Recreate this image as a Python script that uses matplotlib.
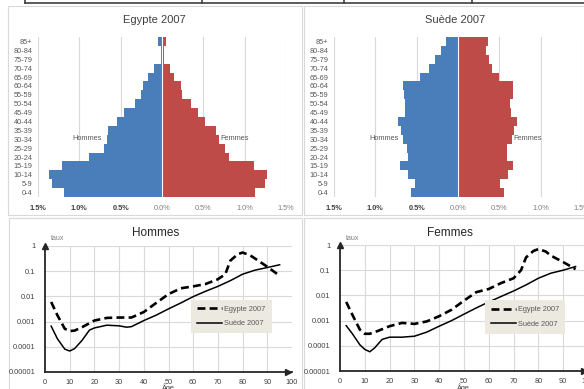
import matplotlib
matplotlib.use("Agg")
import matplotlib.pyplot as plt
import numpy as np
from matplotlib.lines import Line2D
from matplotlib.patches import Rectangle

plt.rcParams['font.family'] = ['Liberation Sans', 'DejaVu Sans']

# Data
age_groups = ['0-4', '5-9', '10-14', '15-19', '20-24', '25-29', '30-34', '35-39', '40-44',
              '45-49', '50-54', '55-59', '60-64', '65-69', '70-74', '75-79', '80-84', '85+']

# population share in % (from 0-4 up to 85+)
egy_men = [1.18, 1.33, 1.37, 1.21, 0.88, 0.70, 0.67, 0.65, 0.54, 0.46, 0.33, 0.26, 0.23, 0.17, 0.10, 0.01, 0.01, 0.05]
egy_women = [1.13, 1.24, 1.27, 1.11, 0.81, 0.76, 0.69, 0.65, 0.52, 0.43, 0.35, 0.24, 0.23, 0.15, 0.10, 0.02, 0.02, 0.05]
swe_men = [0.57, 0.52, 0.61, 0.70, 0.61, 0.62, 0.66, 0.69, 0.73, 0.64, 0.64, 0.65, 0.67, 0.46, 0.35, 0.28, 0.21, 0.15]
swe_women = [0.56, 0.51, 0.60, 0.67, 0.59, 0.59, 0.65, 0.68, 0.71, 0.64, 0.63, 0.66, 0.67, 0.49, 0.41, 0.38, 0.34, 0.36]

pct_ticks = [-1.5, -1.0, -0.5, 0.0, 0.5, 1.0, 1.5]
pct_labels = ['1.5%', '1.0%', '0.5%', '0.0%', '0.5%', '1.0%', '1.5%']

# mortality rates by age
age_egy_h = [2.5, 5, 8, 10, 12, 15, 20, 25, 30, 35, 40, 45, 50, 55, 60, 65, 70, 73, 75, 78, 80, 83, 85, 90, 95]
egy_h = [0.0060, 0.0018, 0.00052, 0.00042, 0.00044, 0.0006, 0.0011, 0.0014, 0.00145, 0.00145, 0.0024,
         0.0055, 0.0123, 0.021, 0.025, 0.031, 0.048, 0.076, 0.26, 0.47, 0.55, 0.43, 0.32, 0.15, 0.066]
age_swe_h = [2.5, 5, 8, 10, 12, 15, 18, 20, 25, 30, 33, 35, 40, 45, 50, 55, 60, 65, 70, 75, 80, 85, 90, 95]
swe_h = [0.00066, 0.00021, 0.000081, 0.000068, 0.000085, 0.00018, 0.00046, 0.00056, 0.00072, 0.00068,
         0.0006, 0.00063, 0.0011, 0.0018, 0.0032, 0.0055, 0.0098, 0.016, 0.025, 0.042, 0.076, 0.11, 0.14, 0.18]

age_egy_f = [2.5, 5, 8, 10, 12, 15, 20, 25, 30, 35, 40, 45, 50, 55, 60, 65, 70, 73, 75, 78, 80, 83, 85, 90, 95]
egy_f = [0.0055, 0.0017, 0.00044, 0.0003, 0.0003, 0.00038, 0.0006, 0.00081, 0.00074, 0.00093, 0.0015,
         0.0027, 0.0062, 0.0135, 0.018, 0.031, 0.048, 0.10, 0.32, 0.58, 0.69, 0.55, 0.38, 0.21, 0.11]
age_swe_f = [2.5, 5, 8, 10, 12, 14, 17, 20, 25, 30, 35, 40, 45, 50, 55, 60, 65, 70, 75, 80, 85, 90, 95]
swe_f = [0.00063, 0.0003, 0.00011, 0.000072, 0.000058, 0.000083, 0.00018, 0.00022, 0.00022, 0.00024,
         0.00035, 0.0006, 0.001, 0.0018, 0.0032, 0.0055, 0.0091, 0.015, 0.026, 0.048, 0.076, 0.10, 0.14]

rate_ticks = [1e-5, 1e-4, 1e-3, 1e-2, 1e-1, 1]
rate_labels = ['0.00001', '0.0001', '0.001', '0.01', '0.1', '1']

W, H = 584, 389
BLUE = '#4a7ebb'
RED = '#be4b48'
GRID = '#d9d9d9'


def box(l, t, r, b):
    return [l / W, 1 - b / H, (r - l) / W, (b - t) / H]


def fx(x):
    return x / W


def fy(y):
    return 1 - y / H


fig = plt.figure(figsize=(W / 100, H / 100), dpi=100)

# table lines at the top
fig.add_artist(Line2D([fx(25), 1], [fy(3), fy(3)], color='#404040', lw=1.2))
for x in [25, 202, 344, 472]:
    fig.add_artist(Line2D([fx(x), fx(x)], [fy(3), 1], color='#404040', lw=1.2))

# panel frames
for l, t, r, b in [(8, 6, 302, 215), (304, 6, 600, 215), (9, 218, 302, 400), (304, 218, 600, 400)]:
    fig.add_artist(Rectangle((fx(l), fy(b)), (r - l) / W, (b - t) / H, transform=fig.transFigure,
                             facecolor='white', edgecolor=GRID, lw=0.8, zorder=-1))


def pyramid(rect, men, women, title, title_x, hom_x, fem_x):
    ax = fig.add_axes(rect)
    ax.set_facecolor('none')
    idx = np.arange(len(age_groups))
    ax.barh(idx, -np.array(men), height=1.0, color=BLUE, zorder=2)
    ax.barh(idx, women, height=1.0, color=RED, zorder=2)
    ax.axvline(0, color='white', lw=0.8, zorder=3)
    for x in pct_ticks:
        ax.axvline(x, color=GRID, lw=0.8, zorder=1)
    ax.set_xlim(-1.5, 1.5)
    ax.set_ylim(-0.5, len(age_groups) - 0.5)
    ax.set_yticks(idx)
    ax.set_yticklabels(age_groups, fontsize=5.3, color='#595959')
    ax.set_xticks(pct_ticks)
    ax.set_xticklabels(pct_labels, fontsize=5.3)
    for i, lab in enumerate(ax.get_xticklabels()):
        if i < 3:
            lab.set_fontweight('bold')
            lab.set_color('#404040')
        else:
            lab.set_color('#7f7f7f')
    ax.tick_params(length=0, pad=4)
    ax.tick_params(axis='x', pad=6)
    for s in ax.spines.values():
        s.set_visible(False)
    fig.text(fx(title_x), fy(20), title, ha='center', va='center', fontsize=8, color='#404040')
    fig.text(fx(hom_x), fy(139), 'Hommes', ha='center', va='center', fontsize=5.3, color='#595959')
    fig.text(fx(fem_x), fy(139), 'Femmes', ha='center', va='center', fontsize=5.3, color='#595959')


pyramid(box(38, 37, 286, 197), egy_men, egy_women, 'Egypte 2007', 154, 87, 235)
pyramid(box(334, 37, 582, 197), swe_men, swe_women, 'Suède 2007', 455, 384, 528)


def mortality(rect, ages_e, egy, ages_s, swe, title, title_x, leg_box):
    ax = fig.add_axes(rect)
    ax.set_facecolor('none')
    ax.set_yscale('log')
    ax.set_xlim(0, 100)
    ax.set_ylim(1e-5, 1)
    for x in range(10, 100, 10):
        ax.axvline(x, color=GRID, lw=0.8, zorder=0)
    for y in rate_ticks[1:]:
        ax.axhline(y, color=GRID, lw=0.8, zorder=0)
    le, = ax.plot(ages_e, egy, color='black', lw=1.9, linestyle=(0, (3, 1.6)), label='Egypte 2007')
    ls, = ax.plot(ages_s, swe, color='black', lw=1.1, label='Suède 2007')
    ax.set_yticks(rate_ticks)
    ax.set_yticklabels(rate_labels, fontsize=5.3, color='#404040')
    ax.yaxis.set_minor_locator(matplotlib.ticker.NullLocator())
    ax.set_xticks(range(0, 101, 10))
    ax.set_xticklabels([str(v) for v in range(0, 101, 10)], fontsize=5.3, color='#404040')
    ax.tick_params(length=0)
    ax.tick_params(axis='y', pad=7)
    ax.tick_params(axis='x', pad=5)
    ax.spines['top'].set_visible(False)
    ax.spines['right'].set_visible(False)
    for s in ['left', 'bottom']:
        ax.spines[s].set_color('#262626')
        ax.spines[s].set_linewidth(1.3)
    ax.plot([0], [1.0], marker='^', ms=4, color='#262626', transform=ax.transAxes, clip_on=False)
    ax.plot([0.985], [0], marker='>', ms=4, color='#262626', transform=ax.transAxes, clip_on=False)
    l, t, r, b = leg_box
    leg = ax.legend(handles=[le, ls], loc='center', bbox_to_anchor=(fx((l + r) / 2), fy((t + b) / 2)),
                    bbox_transform=fig.transFigure, fontsize=5.3, handlelength=3.4, borderpad=0.8,
                    labelspacing=1.0, handletextpad=0.3, fancybox=False, framealpha=1,
                    facecolor='#ebe9e0', edgecolor='none', labelcolor='#595959')
    fig.text(fx(title_x), fy(233), title, ha='center', va='center', fontsize=8.5, color='#262626')
    return ax


mortality(box(45, 246, 292, 372), age_egy_h, egy_h, age_swe_h, swe_h, 'Hommes', 156, (198, 303, 265, 330))
fig.text(fx(58), fy(238), 'taux', ha='center', va='center', fontsize=5, color='#7f7f7f')
fig.text(fx(168), fy(384), 'Âge', ha='center', va='top', fontsize=5.3, color='#404040')

mortality(box(340, 245, 588, 371), age_egy_f, egy_f, age_swe_f, swe_f, 'Femmes', 450, (492, 304, 558, 330))
fig.text(fx(353), fy(238), 'taux', ha='center', va='center', fontsize=5, color='#7f7f7f')
fig.text(fx(463), fy(384), 'Âge', ha='center', va='top', fontsize=5.3, color='#404040')

fig.savefig('out.png', dpi=100)
